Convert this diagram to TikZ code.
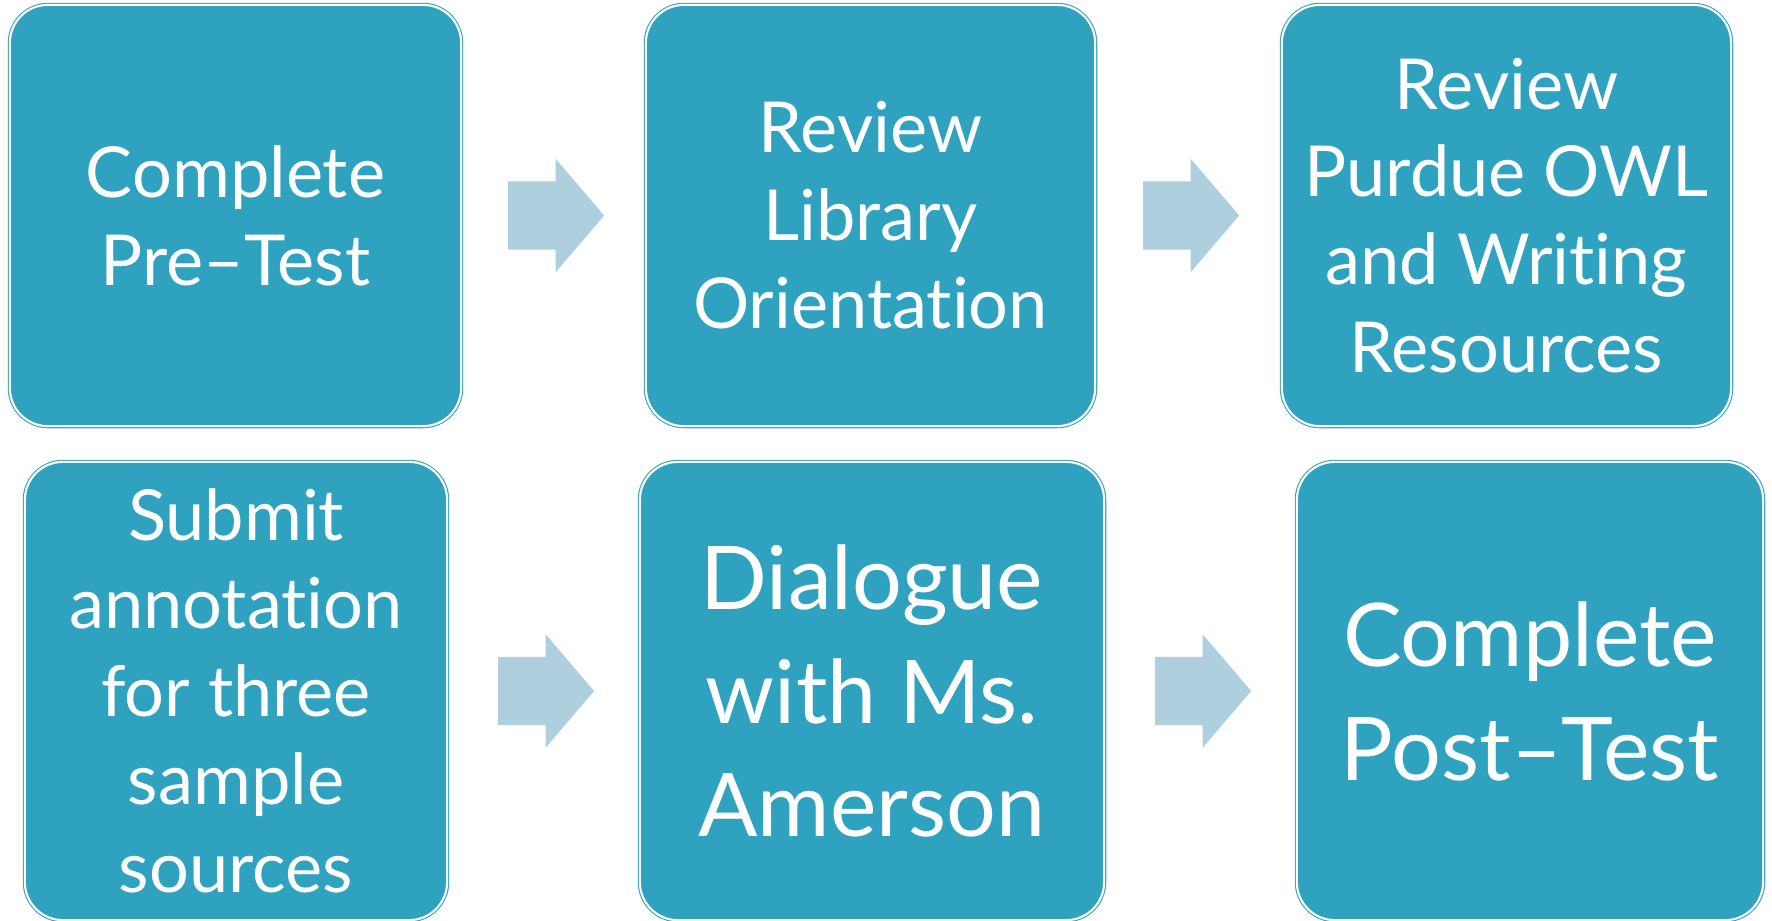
\documentclass[tikz,border=0pt]{standalone}
\usepackage{fontspec}
\setmainfont{Lato}[Ligatures={NoCommon,TeX}]
\usetikzlibrary{shapes.arrows,calc}
\definecolor{boxteal}{RGB}{46,162,191}
\definecolor{arrowblue}{RGB}{174,207,221}
\tikzset{
    step-box/.style = {draw=boxteal, double=white, double distance=0.6pt, line width=0.3pt, fill=boxteal, rounded corners=0.38cm, text=white, align=center, inner sep=0pt, font=\fontsize{20}{25}\selectfont},
    step-box-big/.style = {step-box, font=\fontsize{25}{32.4}\selectfont},
    step-arrow/.style = {single arrow, fill=arrowblue, draw=none, single arrow head extend=0.225cm, single arrow tip angle=99, minimum height=0.96cm, inner xsep=0pt, inner ysep=0.335cm, xshift=-0.12cm},
}

\begin{document}
\begin{tikzpicture}[x=0.01cm, y=-0.01cm]
\useasboundingbox (0,0) rectangle (1772,920);
% top row
\node [step-box, minimum width=4.51cm, minimum height=4.21cm] (pretest) at (235.5,215.5) {Complete\\Pre–Test};
\node [step-box, minimum width=4.49cm, minimum height=4.21cm] (library) at (870.5,215.5) {Review\\Library\\Orientation};
\node [step-box, minimum width=4.49cm, minimum height=4.21cm] (owl) at (1506.5,215.5) {Review\\Purdue OWL\\and Writing\\Resources};
% bottom row
\node [step-box, minimum width=4.22cm, minimum height=4.58cm] (annotate) at (236,691) {Submit\\annotation\\for three\\sample\\sources};
\node [step-box-big, minimum width=4.64cm, minimum height=4.58cm] (dialogue) at (872,691) {Dialogue\\with Ms.\\Amerson};
\node [step-box-big, minimum width=4.66cm, minimum height=4.58cm] (posttest) at (1530,691) {Complete\\Post–Test};
% arrows between the steps
\node [step-arrow] (arr-a) at ($(pretest.east)!.5!(library.west)$) {};
\node [step-arrow] (arr-b) at ($(library.east)!.5!(owl.west)$) {};
\node [step-arrow] (arr-c) at ($(annotate.east)!.5!(dialogue.west)$) {};
\node [step-arrow] (arr-d) at ($(dialogue.east)!.5!(posttest.west)$) {};
\end{tikzpicture}
\end{document}
